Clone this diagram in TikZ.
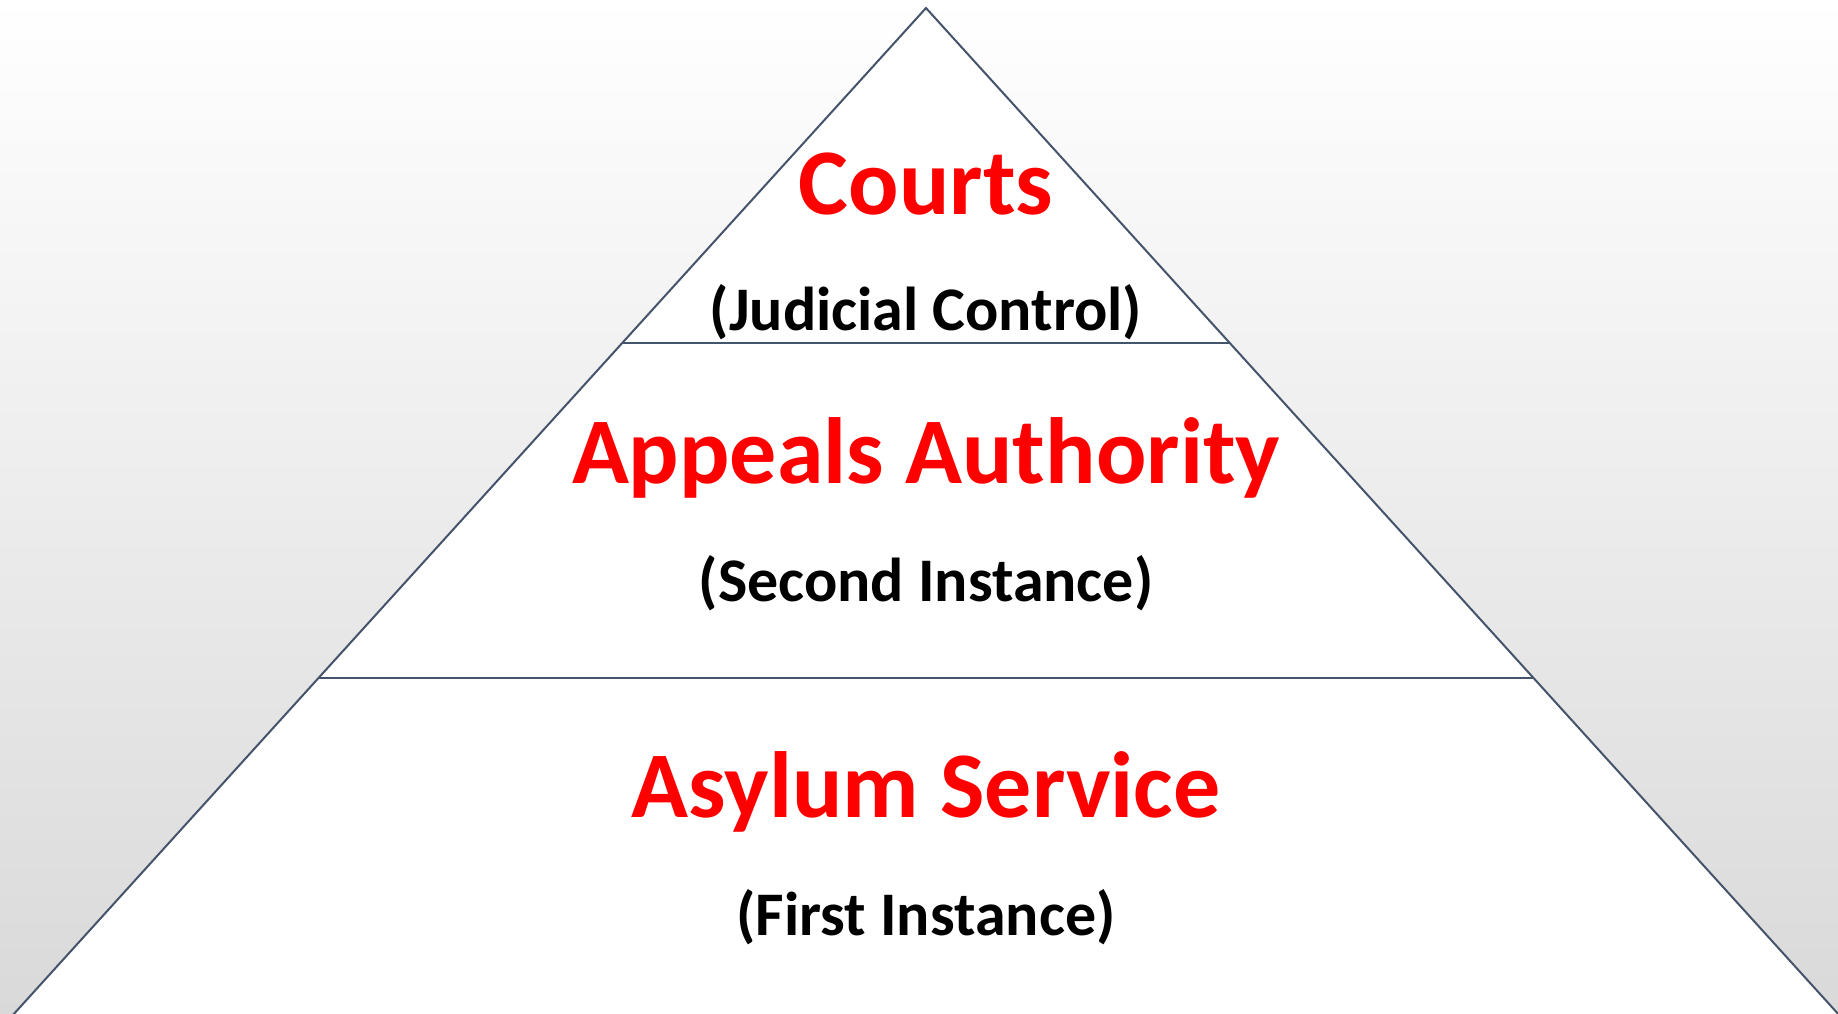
\documentclass[tikz,border=0pt]{standalone}
\usepackage{fontspec}
\setmainfont{Carlito}
\usepackage{tikz}
\usetikzlibrary{calc}
\definecolor{edgeblue}{RGB}{68,84,106}
\definecolor{bggrey}{RGB}{217,217,217}
\definecolor{tierred}{RGB}{255,0,0}

\begin{document}
\begin{tikzpicture}[x=1pt, y=-1pt,
        tier/.style={text=tierred, font=\fontsize{94}{94}\selectfont\bfseries, anchor=base, inner sep=0pt},
        note/.style={text=black, font=\fontsize{62}{62}\selectfont\bfseries, anchor=base, inner sep=0pt},
        edge/.style={draw=edgeblue, line width=2pt}]
        \useasboundingbox (0,0) rectangle (1838,1013);
        \shade [top color=white, bottom color=bggrey] (-3,-3) rectangle (1841,1016);

        \coordinate (apex) at (926,8);
        \coordinate (bl) at (12,1016);
        \coordinate (br) at (1840,1016);
        \coordinate (upl) at ($(apex)!0.332!(bl)$);
        \coordinate (upr) at ($(apex)!0.332!(br)$);
        \coordinate (lowl) at ($(apex)!0.665!(bl)$);
        \coordinate (lowr) at ($(apex)!0.665!(br)$);

        \draw [edge, fill=white] (bl) -- (apex) -- (br);
        \draw [edge] (upl) -- (upr);
        \draw [edge] (lowl) -- (lowr);

        \node [tier] (courts) at (926,214) {Courts};
        \node [note] (judicial) at (926,330) {(Judicial Control)};
        \node [tier] (appeals) at (926,483) {Appeals Authority};
        \node [note] (second) at (926,601) {(Second Instance)};
        \node [tier] (asylum) at (926,817) {Asylum Service};
        \node [note] (first) at (926,935) {(First Instance)};
    \end{tikzpicture}
\end{document}
